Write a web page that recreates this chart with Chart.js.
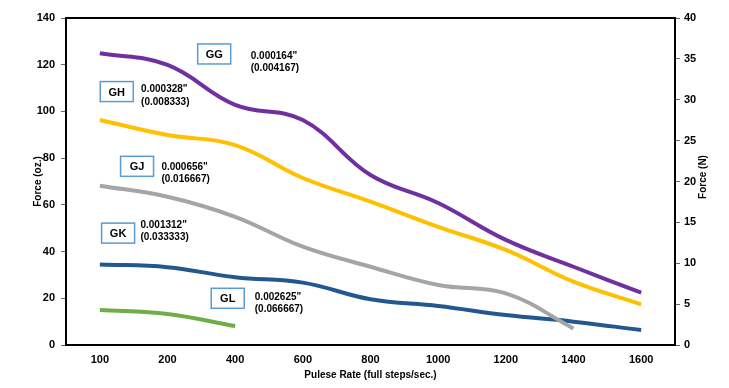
<!DOCTYPE html>
<html>
<head>
<meta charset="utf-8">
<script src="https://cdn.jsdelivr.net/npm/chart.js@4.4.1/dist/chart.umd.min.js"></script>
<style>
  html, body { margin: 0; padding: 0; background: #fff; }
  #wrap { width: 729px; height: 388px; }
</style>
</head>
<body>
<div id="wrap"><canvas id="myChart" width="729" height="388"></canvas></div>
<script>
// Data
const rates = ['100', '200', '400', '600', '800', '1000', '1200', '1400', '1600'];
const forceGG = [124.9, 119.9, 102.8, 96.3, 72.8, 60.8, 45.0, 33.5, 22.4];
const forceGH = [96.3, 89.9, 85.6, 71.5, 61.4, 50.6, 40.7, 27.1, 17.4];
const forceGJ = [68.2, 63.5, 54.9, 42.1, 33.5, 25.7, 22.1, 7.1, null];
const forceGK = [34.5, 33.3, 29.0, 26.7, 19.6, 16.7, 12.8, 10.0, 6.4];
const forceGL = [15.0, 13.3, 8.1, null, null, null, null, null, null];

// Labels: name, step size, box centre (category index, oz), text start index
const labelNames = ['GG', 'GH', 'GJ', 'GK', 'GL'];
const labelSteps = ['0.000164"', '0.000328"', '0.000656"', '0.001312"', '0.002625"'];
const labelMm = ['(0.004167)', '(0.008333)', '(0.016667)', '(0.033333)', '(0.066667)'];
const labelBoxX = [1.69, 0.25, 0.55, 0.27, 1.89];
const labelBoxY = [124.6, 108.5, 76.5, 47.9, 20.0];
const labelTextX = [2.23, 0.61, 0.91, 0.60, 2.29];
const labelTextY = [123.8, 109.3, 76.2, 51.3, 20.5];

const boldFont = '"Liberation Sans", Arial, sans-serif';

// Box around the plot area, axis titles and the label boxes
const extrasPlugin = {
    id: 'extras',
    afterDatasetsDraw(chart) {
        const c = chart.ctx;
        const a = chart.chartArea;
        const xs = chart.scales.x;
        const ys = chart.scales.y;
        c.save();
        c.strokeStyle = '#000';
        c.lineWidth = 2;
        c.strokeRect(a.left, a.top, a.right - a.left, a.bottom - a.top);

        c.fillStyle = '#000';
        c.font = 'bold 10px ' + boldFont;
        c.textAlign = 'center';
        c.textBaseline = 'middle';
        c.fillText('Pulese Rate (full steps/sec.)', (a.left + a.right) / 2, 375);

        c.save();
        c.translate(38, (a.top + a.bottom) / 2);
        c.rotate(-Math.PI / 2);
        c.fillText('Force (oz.)', 0, 0);
        c.restore();

        c.save();
        c.translate(703, 177);
        c.rotate(-Math.PI / 2);
        c.fillText('Force (N)', 0, 0);
        c.restore();

        for (let i = 0; i < labelNames.length; i++) {
            const bx = xs.getPixelForValue(labelBoxX[i]);
            const by = ys.getPixelForValue(labelBoxY[i]);
            const w = 33, h = 20;
            c.fillStyle = '#fff';
            c.fillRect(bx - w / 2, by - h / 2, w, h);
            c.strokeStyle = '#5B9BD5';
            c.lineWidth = 1.5;
            c.strokeRect(bx - w / 2, by - h / 2, w, h);
            c.fillStyle = '#000';
            c.font = 'bold 11px ' + boldFont;
            c.textAlign = 'center';
            c.fillText(labelNames[i], bx, by + 1);

            const tx = xs.getPixelForValue(labelTextX[i]);
            const ty = ys.getPixelForValue(labelTextY[i]);
            c.font = 'bold 10px ' + boldFont;
            c.textAlign = 'left';
            c.fillText(labelSteps[i], tx, ty);
            c.fillText(labelMm[i], tx, ty + 12.5);
        }
        c.restore();
    }
};

function lineSet(label, data, color) {
    return {
        label: label,
        data: data,
        borderColor: color,
        backgroundColor: color,
        borderWidth: 4,
        pointRadius: 0,
        tension: 0.4,
        fill: false,
        spanGaps: false,
        yAxisID: 'y'
    };
}

const ctx = document.getElementById('myChart').getContext('2d');
const forceChart = new Chart(ctx, {
    type: 'line',
    data: {
        labels: rates,
        datasets: [
            lineSet('GG', forceGG, '#7030A0'),
            lineSet('GH', forceGH, '#FFC000'),
            lineSet('GJ', forceGJ, '#A5A5A5'),
            lineSet('GK', forceGK, '#22588E'),
            lineSet('GL', forceGL, '#70AD47')
        ]
    },
    options: {
        responsive: false,
        animation: false,
        layout: { padding: { top: 18, left: 0, right: 0, bottom: 0 } },
        plugins: {
            legend: { display: false },
            tooltip: { enabled: false }
        },
        scales: {
            x: {
                offset: true,
                grid: { display: false, drawTicks: false },
                border: { display: false },
                ticks: {
                    color: '#000',
                    padding: 8,
                    maxRotation: 0,
                    font: { family: boldFont, size: 11, weight: 'bold' }
                },
                afterFit(s) { s.height = 43; }
            },
            y: {
                position: 'left',
                min: 0,
                max: 140,
                grid: { drawOnChartArea: false, drawTicks: true, tickLength: 5, color: '#666' },
                border: { display: false },
                ticks: {
                    stepSize: 20,
                    color: '#000',
                    padding: 6,
                    font: { family: boldFont, size: 11, weight: 'bold' }
                },
                afterFit(s) { s.width = 66; }
            },
            y2: {
                position: 'right',
                min: 0,
                max: 40,
                grid: { drawOnChartArea: false, drawTicks: true, tickLength: 5, color: '#666' },
                border: { display: false },
                ticks: {
                    stepSize: 5,
                    color: '#000',
                    padding: 4,
                    font: { family: boldFont, size: 11, weight: 'bold' }
                },
                afterFit(s) { s.width = 54; }
            }
        }
    },
    plugins: [extrasPlugin]
});
</script>
</body>
</html>
